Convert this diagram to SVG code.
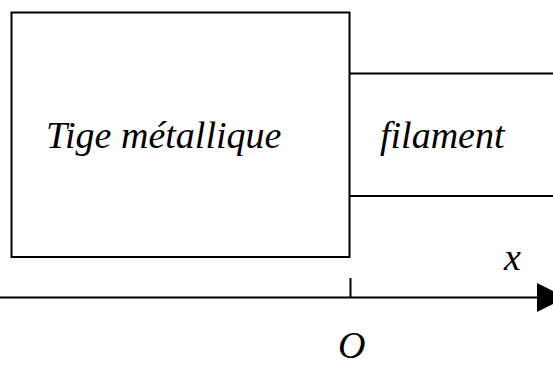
<svg xmlns="http://www.w3.org/2000/svg" width="553" height="367" viewBox="0 0 553 367">
<style>
.ln{fill:none;stroke:#000;stroke-width:2}
.t{font-family:'Liberation Serif','Times New Roman',serif;font-style:italic;font-size:38px;fill:#000}
</style>
<rect width="553" height="367" fill="#fff"/>
<g id="tige">
<rect class="ln" x="11.5" y="12.5" width="338" height="244.5"/>
<text class="t" x="46" y="148">Tige métallique</text>
</g>
<g id="filament">
<path class="ln" d="M349.5 73.5H553M349.5 196H553"/>
<text class="t" x="380" y="148">filament</text>
</g>
<g id="connectors">
<path class="ln" d="M0 297.5H540M350.5 278V297.5"/>
<polygon points="537,283 566,297.5 537,312" fill="#000"/>
</g>
<g id="labels">
<text class="t" x="338" y="358">O</text>
<text class="t" x="504" y="270">x</text>
</g>
</svg>
